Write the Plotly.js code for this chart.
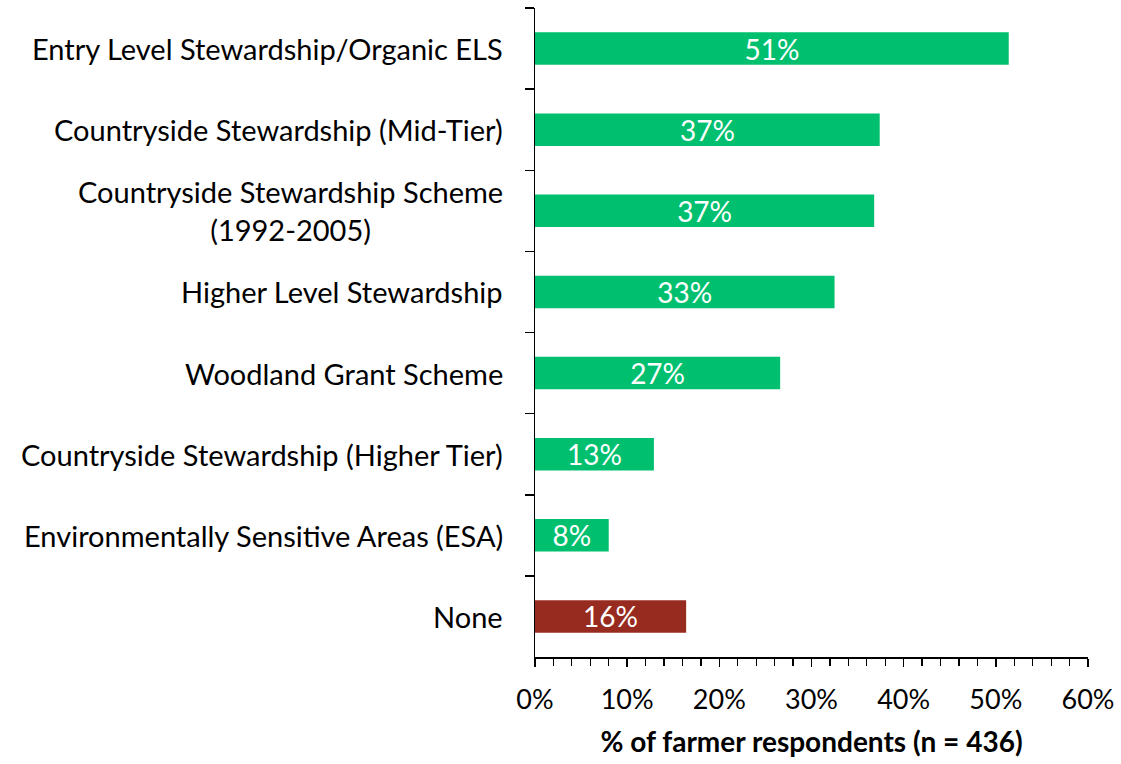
<!DOCTYPE html>
<html>
<head>
<meta charset="utf-8">
<script src="https://cdn.plot.ly/plotly-3.0.1.min.js"></script>
<style>html,body{margin:0;padding:0;background:#fff;}#chart{width:1121px;height:764px;}</style>
</head>
<body>
<div id="chart"></div>
<script>
const categories = [
  "Entry Level Stewardship/Organic ELS",
  "Countryside Stewardship (Mid-Tier)",
  "Countryside Stewardship Scheme<br>(1992-2005)",
  "Higher Level Stewardship",
  "Woodland Grant Scheme",
  "Countryside Stewardship (Higher Tier)",
  "Environmentally Sensitive Areas (ESA)",
  "None"
];
const values = [51.4, 37.4, 36.8, 32.5, 26.6, 12.9, 8.0, 16.4];
const labels = ["51%", "37%", "37%", "33%", "27%", "13%", "8%", "16%"];
const barColors = ["#00BF6F","#00BF6F","#00BF6F","#00BF6F","#00BF6F","#00BF6F","#00BF6F","#982B20"];
const xTitle = "% of farmer respondents (n = 436)";

const FONT = "Lato, 'Open Sans', sans-serif";

const trace = {
  type: "bar",
  orientation: "h",
  y: categories,
  x: values,
  text: labels,
  textposition: "inside",
  insidetextanchor: "middle",
  constraintext: "none",
  textfont: {family: FONT, size: 28, color: "#ffffff"},
  marker: {color: barColors},
  hoverinfo: "skip",
  cliponaxis: false
};

const annotations = categories.map(c => ({
  x: 0, xref: "paper", y: c, yref: "y",
  text: c, showarrow: false, xanchor: "right", yanchor: "middle",
  align: "center", xshift: -30,
  font: {family: FONT, size: 29, color: "#000"}
}));

const layout = {
  width: 1121, height: 764,
  margin: {l: 535, r: 33, t: 8, b: 107},
  paper_bgcolor: "#fff", plot_bgcolor: "#fff",
  showlegend: false,
  bargap: 0.6,
  font: {family: FONT, color: "#000"},
  xaxis: {
    range: [0, 60], dtick: 10, ticksuffix: "%",
    showgrid: false, zeroline: false,
    showline: true, linecolor: "#000", linewidth: 1.5,
    ticks: "outside", ticklen: 8, tickwidth: 1.5, tickcolor: "#000",
    minor: {dtick: 2, ticks: "outside", ticklen: 7, tickwidth: 1.2, tickcolor: "#000", showgrid: false},
    tickfont: {family: FONT, size: 27, color: "#000"},
    ticklabelstandoff: 10,
    title: {text: "<b>" + xTitle + "</b>", font: {family: FONT, size: 28, color: "#000"}, standoff: 18},
    fixedrange: true
  },
  yaxis: {
    type: "category",
    autorange: "reversed",
    showticklabels: false,
    tickson: "boundaries",
    ticks: "outside", ticklen: 9, tickwidth: 1.5, tickcolor: "#000",
    showgrid: false, zeroline: false,
    showline: true, linecolor: "#000", linewidth: 1.5,
    fixedrange: true
  },
  annotations: annotations
};

Plotly.newPlot("chart", [trace], layout, {displayModeBar: false, staticPlot: true});
</script>
</body>
</html>
